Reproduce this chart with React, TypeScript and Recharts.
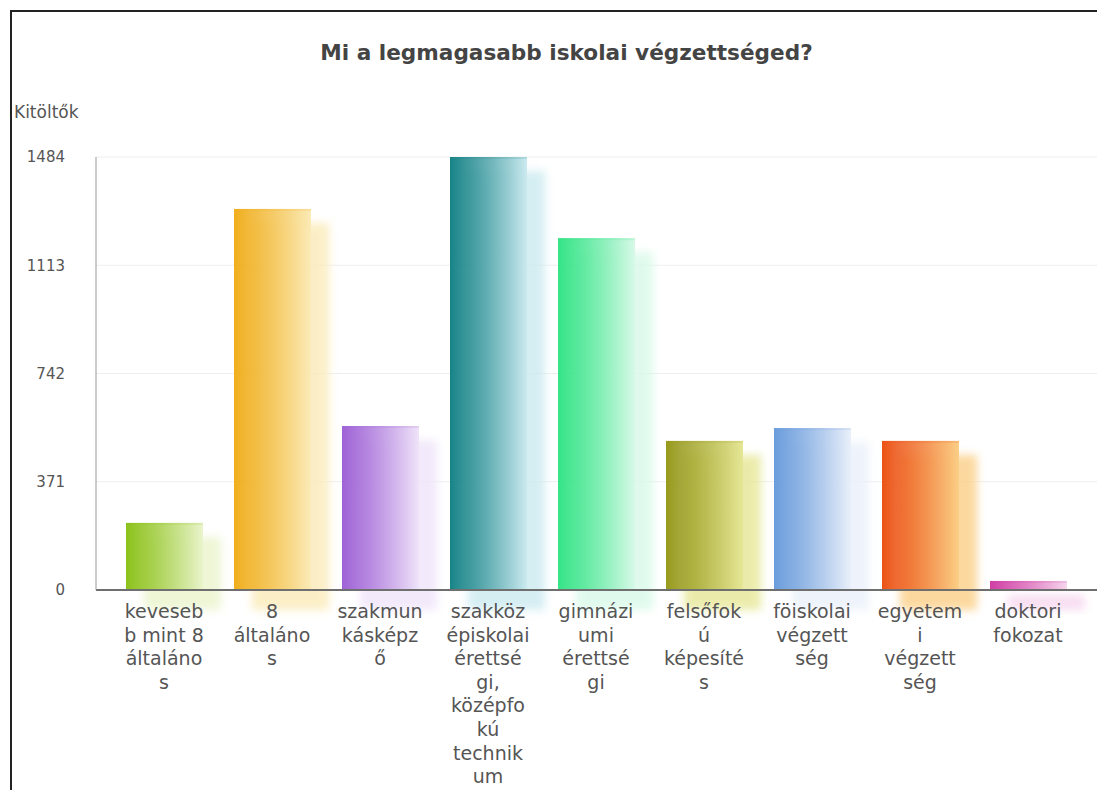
import React from "react";
import { BarChart, Bar, XAxis, YAxis, CartesianGrid } from "recharts";

const TITLE = "Mi a legmagasabb iskolai végzettséged?";
const Y_LABEL = "Kitöltők";

const categories = [
  "kevesebb mint 8 általános",
  "8 általános",
  "szakmunkásképző",
  "szakközépiskolai érettségi, középfokú technikum",
  "gimnáziumi érettségi",
  "felsőfokú képesítés",
  "főiskolai végzettség",
  "egyetemi végzettség",
  "doktori fokozat",
];

// wrapped the way the original chart breaks them
const tickLines = [
  ["keveseb", "b mint 8", "általáno", "s"],
  ["8", "általáno", "s"],
  ["szakmun", "kásképz", "ő"],
  ["szakköz", "épiskolai", "érettsé", "gi,", "középfo", "kú", "technik", "um"],
  ["gimnázi", "umi", "érettsé", "gi"],
  ["felsőfok", "ú", "képesíté", "s"],
  ["föiskolai", "végzett", "ség"],
  ["egyetem", "i", "végzett", "ség"],
  ["doktori", "fokozat"],
];

const counts = [230, 1306, 562, 1484, 1206, 511, 555, 511, 31];

const yTicks = [0, 371, 742, 1113, 1484];

const barColors = [
  ["#8cc21a", "#eaf4cc"],
  ["#f0ae1c", "#fbebb8"],
  ["#9f62d6", "#efe4f9"],
  ["#178488", "#cbeaf0"],
  ["#34e486", "#d8f9e8"],
  ["#979a1a", "#e6e796"],
  ["#6a9cdc", "#eaf0fa"],
  ["#ec5314", "#fbcf86"],
  ["#d03ea4", "#f6d6ee"],
];

const data = categories.map((name, i) => ({ name, count: counts[i] }));

const FONT = "'DejaVu Sans', Verdana, sans-serif";

function GradientBar(props: any) {
  const { x, y, width, height, index } = props;
  if (height <= 0) return null;
  const [strong, pale] = barColors[index % barColors.length];
  return (
    <g>
      <rect
        x={x + 18}
        y={y + 14}
        width={width}
        height={height + 6}
        fill={pale}
        opacity={0.8}
        filter="url(#barShadow)"
      />
      <rect x={x} y={y} width={width} height={height} fill={`url(#grad${index})`} />
      <rect x={x} y={y} width={width} height={2} fill={strong} opacity={0.15} />
    </g>
  );
}

function MultiLineTick(props: any) {
  const { x, y, index } = props;
  const lines = tickLines[index] || [];
  return (
    <text
      x={x}
      y={y}
      textAnchor="middle"
      fill="#555"
      fontSize={19}
      fontFamily={FONT}
    >
      {lines.map((line, i) => (
        <tspan key={i} x={x} dy={i === 0 ? 20 : 23.6}>
          {line}
        </tspan>
      ))}
    </text>
  );
}

export default function App() {
  return (
    <div
      style={{
        position: "fixed",
        left: 0,
        top: 0,
        width: 1097,
        height: 790,
        background: "#fff",
        overflow: "hidden",
        fontFamily: FONT,
      }}
    >
      <BarChart
        width={1097}
        height={790}
        data={data}
        margin={{ top: 157, right: 0, left: 36, bottom: 5 }}
        style={{ position: "absolute", left: 0, top: 0 }}
      >
        <defs>
          {barColors.map(([strong, pale], i) => (
            <linearGradient key={i} id={`grad${i}`} x1="0" y1="0" x2="1" y2="0">
              <stop offset="0" stopColor={strong} />
              <stop offset="0.2" stopColor={strong} stopOpacity={0.85} />
              <stop offset="1" stopColor={pale} />
            </linearGradient>
          ))}
          <filter id="barShadow" x="-30%" y="-30%" width="160%" height="160%">
            <feGaussianBlur stdDeviation="4" />
          </filter>
        </defs>
        <CartesianGrid horizontal vertical={false} stroke="#eeeeee" />
        <XAxis
          dataKey="name"
          height={195}
          interval={0}
          padding={{ left: 14, right: 15 }}
          axisLine={{ stroke: "#6f6f6f", strokeWidth: 2 }}
          tickLine={false}
          tick={<MultiLineTick />}
        />
        <YAxis
          width={60}
          domain={[0, 1484]}
          ticks={yTicks}
          axisLine={{ stroke: "#999" }}
          tickLine={false}
          tickMargin={25}
          tick={{ fill: "#555", fontSize: 15, fontFamily: FONT }}
        />
        <Bar
          dataKey="count"
          barSize={77}
          isAnimationActive={false}
          shape={<GradientBar />}
        />
      </BarChart>

      <div
        style={{
          position: "absolute",
          left: 10,
          top: 10,
          width: 1200,
          height: 900,
          borderLeft: "2px solid #222",
          borderTop: "2px solid #222",
          pointerEvents: "none",
        }}
      />
      <div
        style={{
          position: "absolute",
          left: 10,
          top: 40,
          width: 1113,
          textAlign: "center",
          fontSize: 21.6,
          fontWeight: "bold",
          color: "#444",
        }}
      >
        {TITLE}
      </div>
      <div
        style={{
          position: "absolute",
          left: 14,
          top: 102,
          fontSize: 17,
          color: "#555",
        }}
      >
        {Y_LABEL}
      </div>
    </div>
  );
}
